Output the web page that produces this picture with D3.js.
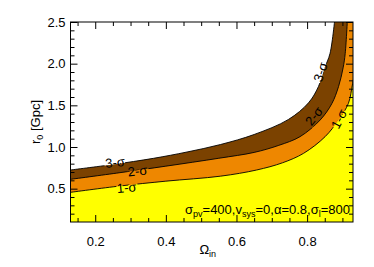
<!DOCTYPE html>
<html>
<head>
<meta charset="utf-8">
<script src="https://cdn.jsdelivr.net/npm/d3@7"></script>
<style>
  html, body { margin: 0; padding: 0; background: #fff; }
  svg { display: block; font-family: "Liberation Sans", Arial, Helvetica, sans-serif; }
</style>
</head>
<body>
<svg id="chart" width="374" height="267"></svg>
<script>
// ---- data ----
const xTicks = [0.2, 0.4, 0.6, 0.8];
const yTicks = [0.5, 1.0, 1.5, 2.0, 2.5];

const sigma1Omega = [0.13, 0.27, 0.40, 0.555, 0.657, 0.73, 0.79, 0.851, 0.889, 0.917, 0.929, 0.94];
const sigma1R     = [0.456, 0.532, 0.59, 0.65, 0.724, 0.81, 0.924, 1.124, 1.324, 1.524, 1.764, 2.0];

const sigma2Omega = [0.13, 0.27, 0.40, 0.55, 0.65, 0.72, 0.78, 0.837, 0.87, 0.889, 0.902, 0.908, 0.915];
const sigma2R     = [0.612, 0.692, 0.77, 0.865, 0.935, 1.02, 1.124, 1.324, 1.52, 1.724, 1.95, 2.124, 2.6];

const sigma3Omega = [0.13, 0.25, 0.365, 0.46, 0.555, 0.65, 0.747, 0.804, 0.832, 0.85, 0.865, 0.88];
const sigma3R     = [0.724, 0.79, 0.864, 0.94, 1.03, 1.15, 1.33, 1.53, 1.724, 1.95, 2.124, 2.6];

const levelNames = ["1-σ", "2-σ", "3-σ"];

// ---- layout ----
const svg = d3.select("#chart");
const L = 70.5, R = 353, T = 22, B = 222;
const x = d3.scaleLinear().domain([0.13, 0.93]).range([L, R]);
const y = d3.scaleLinear().domain([0.1, 2.5]).range([B, T]);

const colors = { yellow: "#FFFF00", orange: "#EE8700", brown: "#7B4200" };

const defs = svg.append("defs");
defs.append("clipPath").attr("id", "plotclip")
  .append("rect").attr("x", L).attr("y", T).attr("width", R - L).attr("height", B - T);

const plot = svg.append("g").attr("clip-path", "url(#plotclip)");

const lineGen = d3.line().x(d => x(d[0])).y(d => y(d[1])).curve(d3.curveCatmullRom.alpha(0.5));

function pts(om, r) { return om.map((o, i) => [o, r[i]]); }

const curves = [pts(sigma1Omega, sigma1R), pts(sigma2Omega, sigma2R), pts(sigma3Omega, sigma3R)];

function regionPath(p) {
  const last = p[p.length - 1];
  return lineGen(p) +
    "L" + x(1.05) + "," + y(last[1]) +
    "L" + x(1.05) + "," + y(0) +
    "L" + x(p[0][0] - 0.05) + "," + y(0) +
    "L" + x(p[0][0] - 0.05) + "," + y(p[0][1]) + "Z";
}

// white background
plot.append("rect").attr("x", L).attr("y", T).attr("width", R - L).attr("height", B - T).attr("fill", "#fff");
// filled regions from outermost to innermost
plot.append("path").attr("d", regionPath(curves[2])).attr("fill", colors.brown);
plot.append("path").attr("d", regionPath(curves[1])).attr("fill", colors.orange);
plot.append("path").attr("d", regionPath(curves[0])).attr("fill", colors.yellow);

// contour labels positions
const labelSpots = [
  { lvl: 0, px: 126.7, py: 187.5, a: -5 },
  { lvl: 1, px: 137.5, py: 171, a: -6 },
  { lvl: 2, px: 115, py: 162.5, a: -6 },
  { lvl: 0, px: 339, py: 119, a: -62 },
  { lvl: 1, px: 314, py: 116, a: -52 },
  { lvl: 2, px: 320.5, py: 72, a: -72 }
];

// mask to break contour lines under labels
const mask = defs.append("mask").attr("id", "labelmask").attr("maskUnits", "userSpaceOnUse")
  .attr("x", 0).attr("y", 0).attr("width", 374).attr("height", 267);
mask.append("rect").attr("x", 0).attr("y", 0).attr("width", 374).attr("height", 267).attr("fill", "#fff");
labelSpots.forEach(s => {
  mask.append("text")
    .attr("transform", `translate(${s.px},${s.py}) rotate(${s.a})`)
    .attr("text-anchor", "middle").attr("dy", "0.35em")
    .attr("font-size", 13).attr("fill", "#000").attr("stroke", "#000").attr("stroke-width", 3)
    .text(levelNames[s.lvl]);
});

// contour lines
const lines = plot.append("g").attr("mask", "url(#labelmask)");
curves.forEach(c => {
  lines.append("path").attr("d", lineGen(c)).attr("fill", "none").attr("stroke", "#000").attr("stroke-width", 0.9);
});

labelSpots.forEach(s => {
  svg.append("text")
    .attr("transform", `translate(${s.px},${s.py}) rotate(${s.a})`)
    .attr("text-anchor", "middle").attr("dy", "0.35em")
    .attr("font-size", 13).attr("fill", "#000")
    .text(levelNames[s.lvl]);
});

// ---- axes ----
const axG = svg.append("g");
const majorLen = 7, minorLen = 4;
const xMinor = d3.range(0.15, 0.93, 0.05).map(v => +v.toFixed(2)).filter(v => xTicks.indexOf(v) < 0);
const yMinor = d3.range(0.2, 2.5, 0.1).map(v => +v.toFixed(1)).filter(v => yTicks.indexOf(v) < 0);

function styleAxis(g) {
  g.select(".domain").remove();
  g.selectAll("line").attr("stroke", "#000");
  g.selectAll("text").attr("fill", "#000").attr("font-size", 13).attr("font-family", "'Liberation Sans', Arial, sans-serif");
}

axG.append("g").attr("transform", `translate(0,${B})`)
  .call(d3.axisBottom(x).tickValues(xTicks).tickSize(-majorLen).tickPadding(majorLen + 8).tickFormat(d3.format(".1f")))
  .call(styleAxis);
axG.append("g").attr("transform", `translate(0,${B})`)
  .call(d3.axisBottom(x).tickValues(xMinor).tickSize(-minorLen).tickFormat(""))
  .call(styleAxis);
axG.append("g").attr("transform", `translate(0,${T})`)
  .call(d3.axisTop(x).tickValues(xTicks).tickSize(-majorLen).tickFormat(""))
  .call(styleAxis);
axG.append("g").attr("transform", `translate(0,${T})`)
  .call(d3.axisTop(x).tickValues(xMinor).tickSize(-minorLen).tickFormat(""))
  .call(styleAxis);

axG.append("g").attr("transform", `translate(${L},0)`)
  .call(d3.axisLeft(y).tickValues(yTicks).tickSize(-majorLen).tickPadding(5).tickFormat(d3.format(".1f")))
  .call(styleAxis);
axG.append("g").attr("transform", `translate(${L},0)`)
  .call(d3.axisLeft(y).tickValues(yMinor).tickSize(-minorLen).tickFormat(""))
  .call(styleAxis);
axG.append("g").attr("transform", `translate(${R},0)`)
  .call(d3.axisRight(y).tickValues(yTicks).tickSize(-majorLen).tickFormat(""))
  .call(styleAxis);
axG.append("g").attr("transform", `translate(${R},0)`)
  .call(d3.axisRight(y).tickValues(yMinor).tickSize(-minorLen).tickFormat(""))
  .call(styleAxis);

// frame
svg.append("rect").attr("x", L).attr("y", T).attr("width", R - L).attr("height", B - T)
  .attr("fill", "none").attr("stroke", "#000").attr("stroke-width", 1);

// axis titles
const xt = svg.append("text").attr("x", (L + R) / 2 - 4).attr("y", 254).attr("text-anchor", "middle")
  .attr("font-size", 13).attr("fill", "#000");
xt.append("tspan").text("Ω");
xt.append("tspan").attr("font-size", 9).attr("dy", 3).text("in");

const yt = svg.append("text").attr("transform", `translate(40,${(T + B) / 2}) rotate(-90)`).attr("text-anchor", "middle")
  .attr("font-size", 13).attr("fill", "#000");
yt.append("tspan").text("r");
yt.append("tspan").attr("font-size", 9).attr("dy", 3).text("0");
yt.append("tspan").attr("dy", -3).text(" [Gpc]");

// annotation
const ann = svg.append("text").attr("x", 350).attr("y", 214).attr("text-anchor", "end")
  .attr("font-size", 13).attr("fill", "#000");
ann.append("tspan").text("σ");
ann.append("tspan").attr("font-size", 9).attr("dy", 3).text("pv");
ann.append("tspan").attr("dy", -3).text("=400,v");
ann.append("tspan").attr("font-size", 9).attr("dy", 3).text("sys");
ann.append("tspan").attr("dy", -3).text("=0,α=0.8,σ");
ann.append("tspan").attr("font-size", 9).attr("dy", 3).text("l");
ann.append("tspan").attr("dy", -3).text("=800");
</script>
</body>
</html>
